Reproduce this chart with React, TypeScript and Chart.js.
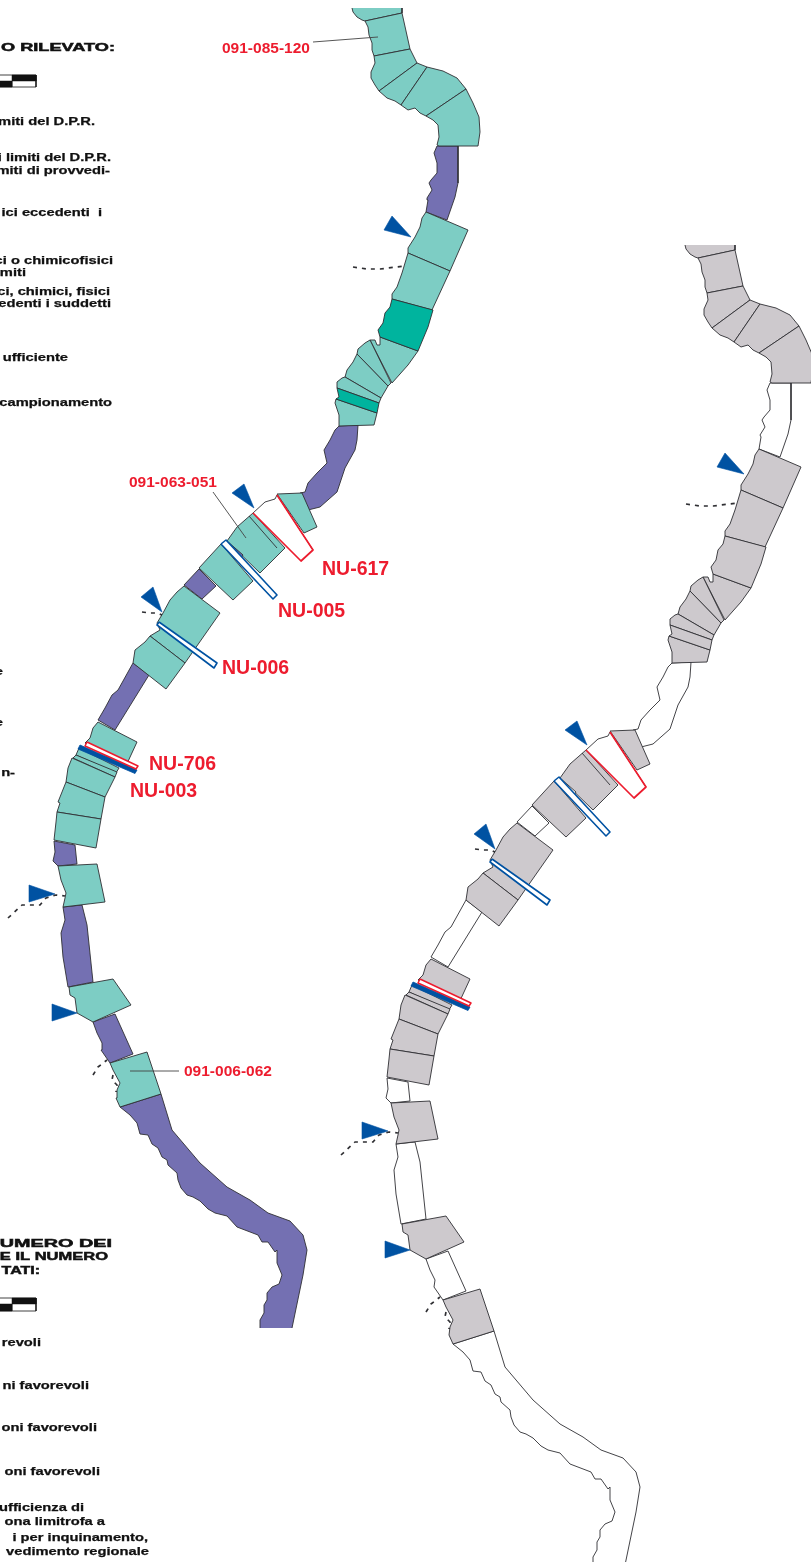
import React, { useEffect, useRef } from "react";
import { Chart, registerables } from "chart.js";

Chart.register(...registerables);

type P = [number, number];

const TEAL = "#7dcdc4", DEEP = "#00b49e", PURPLE = "#7470b2", BLUE = "#0052a2", RED = "#ed1c2e", GREY = "#cdc9cd", INK = "#2f2f33";

// river reaches (map units)
const segA: P[] = [[402,8],[402,13],[365,21],[362,20],[357,17],[353,12],[352,8],[402,8]];
const segB: P[] = [[365,21],[402,13],[410,49],[374,56],[372,50],[372,43],[369,35],[368,27],[365,21]];
const segC: P[] = [[374,56],[410,49],[417,63],[379,91],[375,85],[371,78],[371,72],[375,63],[374,56]];
const segD: P[] = [[417,63],[427,67],[401,105],[395,101],[387,98],[379,91],[417,63]];
const segE: P[] = [[427,67],[443,71],[457,78],[466,89],[426,116],[420,113],[415,108],[408,110],[401,105],[427,67]];
const segF: P[] = [[466,89],[473,103],[479,117],[480,132],[478,146],[439,146],[437,145],[439,137],[438,125],[433,120],[426,116],[466,89]];
const pur1: P[] = [[437,146],[458,146],[458,183],[455,197],[447,220],[426,212],[428,200],[427,198],[432,190],[429,183],[431,180],[437,173],[437,163],[434,153],[437,146]];
const segG: P[] = [[426,212],[468,230],[450,271],[408,253],[408,248],[415,237],[420,227],[422,218],[426,212]];
const segH: P[] = [[408,253],[450,271],[432,310],[392,299],[392,294],[397,287],[402,273],[405,263],[408,253]];
const segI: P[] = [[392,299],[433,310],[428,327],[418,351],[380,337],[378,330],[383,323],[385,313],[390,307],[392,299]];
const segJ: P[] = [[380,337],[418,351],[408,365],[392,383],[370,340],[375,340],[377,345],[380,345],[380,337]];
const segK: P[] = [[370,340],[391,383],[388,386],[357,354],[358,349],[365,343],[370,340]];
const segL: P[] = [[357,354],[388,386],[381,398],[345,377],[347,370],[353,362],[357,354]];
const segM: P[] = [[345,377],[381,398],[379,403],[337,388],[337,382],[342,378],[345,377]];
const segN: P[] = [[337,388],[379,403],[377,413],[336,399],[339,397],[337,388]];
const segO: P[] = [[336,399],[377,413],[374,425],[339,426],[339,415],[335,403],[336,399]];
const pur2: P[] = [[339,426],[358,425],[357,440],[355,450],[345,468],[337,492],[320,507],[308,510],[300,493],[305,492],[308,483],[317,473],[327,463],[324,450],[330,440],[335,430],[339,426]];
const nu617: P[] = [[253,513],[265,502],[275,499],[277,495],[313,550],[301,561],[253,513]];
const segQ: P[] = [[277,494],[302,493],[317,527],[304,533],[277,494]];
const segR: P[] = [[253,513],[285,548],[260,573],[227,541],[237,527],[253,513]];
const lineR: P[] = [[249,516],[277,548]];
const redQ: P[] = [[253,513],[301,561],[313,550],[277,495]];
const purSliver: P[] = [[227,541],[243,555],[241,558],[225,543],[227,541]];
const segS: P[] = [[221,544],[253,581],[233,600],[199,568],[221,544]];
const nu005: P[] = [[221,544],[226,540],[277,595],[273,599],[221,544]];
const pur3: P[] = [[199,569],[184,585],[202,599],[216,586],[199,569]];
const segT: P[] = [[184,586],[220,613],[185,663],[150,636],[155,633],[160,630],[157,623],[163,613],[170,600],[177,592],[184,586]];
const segU: P[] = [[150,636],[185,663],[166,689],[133,663],[135,650],[145,642],[150,636]];
const nu006: P[] = [[159,622],[217,663],[214,668],[157,625],[159,622]];
const pur4: P[] = [[133,663],[149,675],[115,730],[98,720],[105,708],[112,695],[118,690],[133,663]];
const segV: P[] = [[98,722],[137,742],[125,768],[85,743],[90,738],[93,728],[98,722]];
const segW1: P[] = [[79,748],[119,768],[116,773],[76,755],[79,748]];
const segW2: P[] = [[76,755],[117,772],[115,777],[73,758],[76,755]];
const segX: P[] = [[72,758],[115,777],[105,797],[66,782],[68,768],[72,758]];
const segY: P[] = [[66,782],[105,797],[101,819],[57,812],[60,803],[58,802],[66,782]];
const segZ: P[] = [[57,812],[101,819],[96,848],[54,840],[56,822],[57,812]];
const nu003: P[] = [[80,745],[137,770],[135,773.5],[78,749],[80,745]];
const nu706: P[] = [[87,742],[138,766],[136,769],[85,746],[87,742]];
const pur5: P[] = [[54,841],[75,845],[77,864],[58,866],[53,861],[55,852],[54,841]];
const segAA: P[] = [[58,866],[97,864],[105,902],[63,907],[65,898],[66,893],[61,880],[58,866]];
const pur6: P[] = [[63,907],[82,905],[87,925],[93,982],[68,987],[63,957],[61,933],[65,920],[63,907]];
const segAB: P[] = [[69,987],[113,979],[131,1005],[93,1022],[77,1013],[75,998],[70,995],[69,987]];
const pur7: P[] = [[93,1022],[115,1014],[133,1054],[110,1063],[101,1050],[102,1043],[97,1033],[93,1022]];
const segAC: P[] = [[110,1063],[147,1052],[161,1094],[120,1107],[116,1098],[117,1090],[120,1083],[113,1070],[110,1063]];
const pur8: P[] = [[260,1328],[260,1320],[264,1313],[264,1305],[267,1300],[267,1293],[272,1287],[279,1284],[282,1275],[277,1263],[277,1250],[275,1252],[268,1242],[262,1242],[258,1235],[237,1227],[227,1216],[215,1213],[208,1209],[200,1201],[193,1197],[187,1195],[181,1188],[178,1180],[177,1173],[168,1165],[167,1160],[162,1157],[158,1148],[152,1144],[148,1135],[140,1134],[137,1123],[130,1115],[120,1107],[161,1094],[172,1130],[200,1163],[227,1187],[250,1200],[268,1213],[290,1221],[303,1235],[307,1250],[303,1275],[292,1328],[260,1328]];

// inflow markers
const arrow1: P[] = [[392,216],[384,230],[411,237],[392,216]];
const arrow2: P[] = [[244,484],[232,493],[254,508],[244,484]];
const arrow3: P[] = [[153,587],[141,597],[162,612],[153,587]];
const arrow4: P[] = [[29,885],[55,894],[29,902],[29,885]];
const arrow5: P[] = [[52,1004],[77,1013],[52,1021],[52,1004]];

// dashed tributaries
const dash1: P[] = [[353,267],[367,269],[380,269],[405,266]];
const dash2: P[] = [[142,612],[150,613],[157,613],[162,615]];
const dash3: P[] = [[8,918],[22,905],[30,905],[40,905],[46,898],[56,895],[65,896]];
const dash4: P[] = [[93,1075],[98,1067],[107,1060]];
const dash5: P[] = [[113,1075],[112,1080],[117,1085],[116,1092]];

// leader lines
const leader1: P[] = [[313,42],[378,37]];
const leader2: P[] = [[213,492],[246,538]];
const leader3: P[] = [[130,1071],[179,1071]];

// legend scale bars
const barWhite1: P[] = [[-1,75],[36,75],[36,87],[-1,87],[-1,75]];
const barTop1: P[] = [[12,75],[36,75],[36,81],[12,81],[12,75]];
const barBot1: P[] = [[-1,81],[12,81],[12,87],[-1,87],[-1,81]];
const barWhite2: P[] = [[-1,1298],[36,1298],[36,1311],[-1,1311],[-1,1298]];
const barTop2: P[] = [[12,1298],[36,1298],[36,1304],[12,1304],[12,1298]];
const barBot2: P[] = [[-1,1304],[12,1304],[12,1311],[-1,1311],[-1,1304]];

const redLabels: [string, number, number, number][] = [
  ["091-085-120", 222, 49, 15.5],
  ["091-063-051", 129, 483, 15.5],
  ["091-006-062", 184, 1072, 15.5],
  ["NU-617", 322, 570, 19.5],
  ["NU-005", 278, 612, 19.5],
  ["NU-006", 222, 669, 19.5],
  ["NU-706", 149, 765, 19.5],
  ["NU-003", 130, 792, 19.5],
];

const legendHeads: [string, number, number, number][] = [
  ["O RILEVATO:", 115, 47.5, 1.65],
  ["UMERO DEI", 112, 1243.5, 1.8],
  ["E IL NUMERO", 108, 1256.5, 1.5],
  ["TATI:", 40, 1270.5, 1.45],
];

const legendLines: [string, number, number][] = [
  ["miti del D.P.R.", 95, 122.5],
  ["i limiti del D.P.R.", 111, 158.5],
  ["miti di provvedi-", 110, 171.5],
  ["ici eccedenti  i", 102, 213.5],
  ["ci o chimicofisici", 113, 261.5],
  ["imiti", 26, 273.5],
  ["ci, chimici, fisici", 110, 292.5],
  ["edenti i suddetti", 111, 304.5],
  ["ufficiente", 68, 358.5],
  ["campionamento", 112, 403.5],
  ["e", 3, 672.5],
  ["e", 3, 723.5],
  ["n-", 15, 773.5],
  ["revoli", 41, 1343.5],
  ["ni favorevoli", 89, 1386.5],
  ["oni favorevoli", 97, 1428.5],
  ["oni favorevoli", 100, 1472.5],
  ["ufficienza di", 84, 1508.5],
  ["ona limitrofa a", 105, 1522.5],
  ["i per inquinamento,", 148, 1538.5],
  ["vedimento regionale", 149, 1552.5],
];

type Mark = { pts: P[]; fill?: string; right?: string; stroke?: string; width?: number; dash?: number[]; both?: boolean; open?: boolean };

const W = 0.9;
const marks: Mark[] = [
  ...[pur1, pur2, pur3, pur4, pur5, pur6, pur7].map((pts) => ({ pts, fill: PURPLE, right: "#ffffff", both: true })),
  { pts: pur8, fill: PURPLE, right: "#ffffff", both: true, open: true },
  { pts: segA, fill: TEAL, right: GREY, both: true, open: true },
  ...[segB, segC, segD, segE, segF, segG, segH, segJ, segK, segL, segM, segO, segS, segT, segU, segV, segW1, segW2, segX, segY, segZ, segAA, segAB, segAC].map((pts) => ({ pts, fill: TEAL, right: GREY, both: true })),
  ...[segI, segN].map((pts) => ({ pts, fill: DEEP, right: GREY, both: true })),
  { pts: segR, fill: TEAL, right: GREY, both: true },
  { pts: nu617, fill: "#ffffff", right: "#ffffff", both: true },
  { pts: segQ, fill: TEAL, right: GREY, both: true },
  { pts: lineR, both: true },
  { pts: redQ, stroke: RED, width: 1.7, both: true },
  { pts: purSliver, fill: PURPLE, right: "#ffffff", both: true },
  { pts: nu005, fill: "#ffffff", right: "#ffffff", stroke: BLUE, width: 1.6, both: true },
  { pts: nu006, fill: "#ffffff", right: "#ffffff", stroke: BLUE, width: 1.6, both: true },
  { pts: nu003, fill: BLUE, right: BLUE, stroke: BLUE, width: 0.8, both: true },
  { pts: nu706, fill: "#ffffff", right: "#ffffff", stroke: RED, width: 1.5, both: true },
  ...[arrow1, arrow2, arrow3, arrow4, arrow5].map((pts) => ({ pts, fill: BLUE, right: BLUE, stroke: BLUE, width: 0.6, both: true })),
  ...[dash1, dash2, dash3, dash4, dash5].map((pts) => ({ pts, dash: [4, 5], width: 1.7, both: true })),
  ...[leader1, leader2, leader3].map((pts) => ({ pts, stroke: "#444", width: 0.9 })),
  { pts: barWhite1, fill: "#ffffff", stroke: "#111", width: 0.8 },
  { pts: barTop1, fill: "#111", stroke: "#111", width: 0.5 },
  { pts: barBot1, fill: "#111", stroke: "#111", width: 0.5 },
  { pts: barWhite2, fill: "#ffffff", stroke: "#111", width: 0.8 },
  { pts: barTop2, fill: "#111", stroke: "#111", width: 0.5 },
  { pts: barBot2, fill: "#111", stroke: "#111", width: 0.5 },
];

function toDataset(m: Mark, side: "left" | "right", order: number) {
  const right = side === "right";
  return {
    data: m.pts.map(([x, y]) => ({ x, y })),
    xAxisID: right ? "x2" : "x",
    yAxisID: right ? "y2" : "y",
    showLine: true,
    tension: 0,
    pointRadius: 0,
    borderColor: m.stroke ?? INK,
    borderWidth: m.open ? 0 : m.width ?? W,
    borderDash: m.dash ?? [],
    borderJoinStyle: "round",
    backgroundColor: right ? m.right ?? m.fill : m.fill,
    fill: m.fill ? "shape" : false,
    order,
  };
}

function shoreline(m: Mark, side: "left" | "right", order: number) {
  const right = side === "right";
  return {
    data: m.pts.slice(0, -1).map(([x, y]) => ({ x, y })),
    xAxisID: right ? "x2" : "x",
    yAxisID: right ? "y2" : "y",
    showLine: true,
    tension: 0,
    pointRadius: 0,
    borderColor: INK,
    borderWidth: W,
    borderJoinStyle: "round",
    fill: false,
    order,
  };
}

const textPlugin = {
  id: "mapText",
  afterDatasetsDraw(chart: any) {
    const { ctx, scales } = chart;
    const px = (v: number) => scales.x.getPixelForValue(v);
    const py = (v: number) => scales.y.getPixelForValue(v);
    ctx.save();
    ctx.textBaseline = "middle";
    ctx.fillStyle = RED;
    ctx.textAlign = "left";
    for (const [t, x, y, size] of redLabels) {
      ctx.font = `bold ${size}px "Liberation Sans"`;
      ctx.fillText(t, px(x), py(y));
    }
    ctx.fillStyle = "#111";
    ctx.strokeStyle = "#111";
    ctx.textAlign = "right";
    const put = (t: string, x: number, y: number, sx: number) => {
      ctx.save();
      ctx.translate(px(x), py(y));
      ctx.scale(sx, 1);
      ctx.fillText(t, 0, 0);
      ctx.strokeText(t, 0, 0);
      ctx.restore();
    };
    ctx.font = 'bold 11px "Liberation Sans"';
    ctx.lineWidth = 0.5;
    for (const [t, x, y, sx] of legendHeads) put(t, x, y, sx);
    ctx.font = 'bold 10.5px "Liberation Sans"';
    ctx.lineWidth = 0.25;
    for (const [t, x, y] of legendLines) put(t, x, y, 1.4);
    ctx.restore();
  },
};

export default function App() {
  const ref = useRef<HTMLCanvasElement>(null);
  useEffect(() => {
    document.body.style.margin = "0";
    const datasets: any[] = [];
    const total = marks.length * 2;
    marks.forEach((m, i) => {
      datasets.push(toDataset(m, "left", total - i));
      if (m.open) datasets.push(shoreline(m, "left", total - i - 0.5));
      if (m.both) {
        datasets.push(toDataset(m, "right", total - i));
        if (m.open) datasets.push(shoreline(m, "right", total - i - 0.5));
      }
    });
    const hidden = (min: number, max: number, reverse = false) => ({ type: "linear", display: false, min, max, reverse });
    const chart = new Chart(ref.current!, {
      type: "scatter",
      data: { datasets },
      options: {
        animation: false,
        responsive: false,
        devicePixelRatio: 1,
        layout: { padding: 0 },
        plugins: { legend: { display: false }, tooltip: { enabled: false } },
        scales: {
          x: hidden(0, 811),
          y: hidden(0, 1562, true),
          x2: hidden(-333, 478),
          y2: hidden(-237, 1325, true),
        },
      } as any,
      plugins: [textPlugin],
    } as any);
    return () => chart.destroy();
  }, []);
  return (
    <div style={{ position: "absolute", left: 0, top: 0, width: 811, height: 1562, background: "#fff" }}>
      <canvas ref={ref} width={811} height={1562} style={{ display: "block" }} />
    </div>
  );
}
